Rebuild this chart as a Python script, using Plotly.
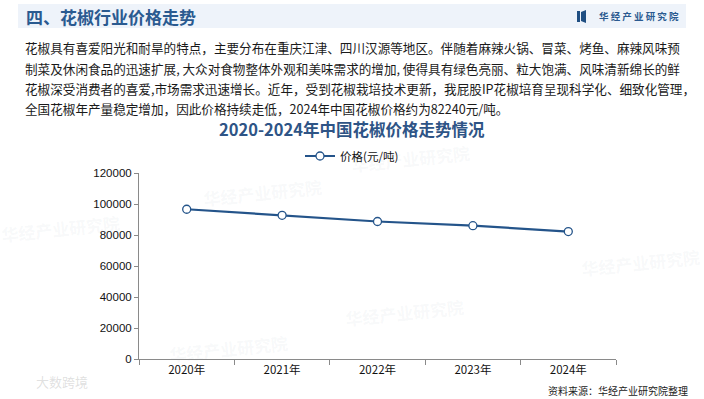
import plotly.graph_objects as go

years = ["2020年", "2021年", "2022年", "2023年", "2024年"]
prices = [96600, 92700, 88700, 86000, 82240]
series_name = "价格(元/吨)"
y_ticks = [0, 20000, 40000, 60000, 80000, 100000, 120000]

header_title = "四、花椒行业价格走势"
brand = "华 经 产 业 研 究 院"
chart_title = "2020-2024年中国花椒价格走势情况"
paragraph = [
    "花椒具有喜爱阳光和耐旱的特点，主要分布在重庆江津、四川汉源等地区。伴随着麻辣火锅、冒菜、烤鱼、麻辣风味预",
    "制菜及休闲食品的迅速扩展, 大众对食物整体外观和美味需求的增加, 使得具有绿色亮丽、粒大饱满、风味清新绵长的鲜",
    "花椒深受消费者的喜爱,市场需求迅速增长。近年，受到花椒栽培技术更新，我屁股IP花椒培育呈现科学化、细致化管理，",
    "全国花椒年产量稳定增加，因此价格持续走低，2024年中国花椒价格约为82240元/吨。",
]
source = "资料来源：华经产业研究院整理"

W, H = 704, 399
L, R, T, B = 139, 88, 173, 40
PW, PH = W - L - R, H - T - B

def px(x):
    return (x - L) / PW

def py(y):
    return (H - B - y) / PH

CJK = "Noto Sans CJK SC"
NUM = "Liberation Sans, Arial"

fig = go.Figure()
fig.add_trace(go.Scatter(
    x=years, y=prices, name=series_name, mode="lines+markers",
    line=dict(color="#24548a", width=2.2),
    marker=dict(symbol="circle", size=8, color="white",
                line=dict(color="#24548a", width=1.3)),
    showlegend=True,
))

shapes = [
    dict(type="rect", xref="paper", yref="paper",
         x0=px(18), x1=px(686), y0=py(28), y1=py(4),
         fillcolor="#eef3fa", line=dict(width=0), layer="below"),
    dict(type="rect", xref="paper", yref="paper",
         x0=px(577), x1=px(580), y0=py(22), y1=py(11),
         fillcolor="#1f4e82", line=dict(width=0)),
    dict(type="path", xref="paper", yref="paper",
         path=f"M {px(581)},{py(12)} L {px(586)},{py(10)} L {px(586)},{py(23)} L {px(581)},{py(21)} Z",
         fillcolor="#1f4e82", line=dict(width=0)),
]

annotations = [
    dict(text=f"<b>{header_title}</b>", x=px(24), y=py(16), xref="paper", yref="paper",
         xanchor="left", yanchor="middle", showarrow=False,
         font=dict(family=CJK, size=17, color="#2a5a90")),
    dict(text=f"<b>{brand}</b>", x=px(681), y=py(16), xref="paper", yref="paper",
         xanchor="right", yanchor="middle", showarrow=False,
         font=dict(family=CJK, size=9.5, color="#2a5a90")),
    dict(text=f"<b>{chart_title}</b>", x=px(352), y=py(129), xref="paper", yref="paper",
         xanchor="center", yanchor="middle", showarrow=False,
         font=dict(family=CJK, size=16.5, color="#2e5486")),
    dict(text=source, x=px(690), y=py(390), xref="paper", yref="paper",
         xanchor="right", yanchor="middle", showarrow=False,
         font=dict(family=CJK, size=10, color="#222222")),
]

line_y = [48, 68.5, 88.5, 108]
for txt, yy in zip(paragraph, line_y):
    annotations.append(dict(
        text=txt, x=px(23), y=py(yy), xref="paper", yref="paper",
        xanchor="left", yanchor="middle", showarrow=False,
        font=dict(family=CJK, size=12.6, color="#1a1a1a")))

# faint watermarks
for (wx, wy) in [(262, 192), (410, 158), (404, 312), (228, 348), (640, 262), (60, 228)]:
    annotations.append(dict(
        text="<b>华经产业研究院</b>", x=px(wx), y=py(wy), xref="paper", yref="paper",
        xanchor="center", yanchor="middle", showarrow=False, textangle=-6,
        font=dict(family=CJK, size=17, color="rgba(150,160,175,0.08)")))
annotations.append(dict(
    text="大数跨境", x=px(34), y=py(381), xref="paper", yref="paper",
    xanchor="left", yanchor="middle", showarrow=False,
    font=dict(family=CJK, size=13, color="rgba(150,150,150,0.3)")))

fig.update_layout(
    width=W, height=H,
    margin=dict(l=L, r=R, t=T, b=B),
    paper_bgcolor="white", plot_bgcolor="white",
    showlegend=True,
    legend=dict(orientation="h", x=px(352), y=py(156), xanchor="center", yanchor="middle",
                font=dict(family=CJK, size=11.5, color="#111111"),
                bgcolor="rgba(0,0,0,0)", itemwidth=30),
    shapes=shapes,
    annotations=annotations,
    xaxis=dict(type="category", range=[-0.5, 4.5], showline=True, linecolor="#8a8a8a",
               linewidth=1, ticks="outside", tickson="boundaries", ticklen=5,
               tickcolor="#8a8a8a", showgrid=False, zeroline=False,
               tickfont=dict(family=CJK, size=11.5, color="#111111")),
    yaxis=dict(range=[0, 120000], tickvals=y_ticks, showline=True, linecolor="#8a8a8a",
               linewidth=1, ticks="outside", ticklen=4, tickcolor="#8a8a8a",
               showgrid=False, zeroline=False, tickformat="d",
               tickfont=dict(family=NUM, size=11.5, color="#111111")),
)

fig.write_html("out.html", config={"displayModeBar": False},
               post_script="document.body.style.margin='0';document.body.style.overflow='hidden';")
